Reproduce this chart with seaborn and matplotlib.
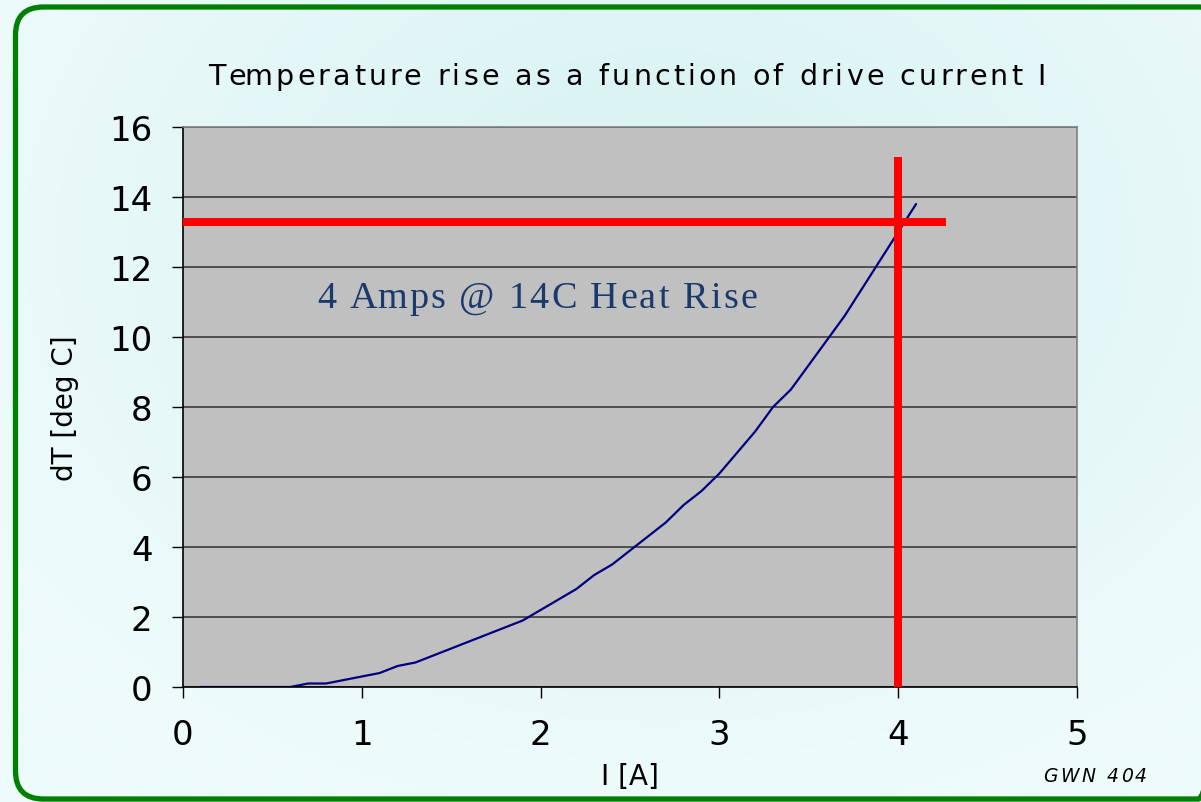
import numpy as np
import matplotlib
matplotlib.use("Agg")
import matplotlib.pyplot as plt
import seaborn as sns
from matplotlib.patches import FancyBboxPatch
from matplotlib.font_manager import FontProperties

# ---------------- data ----------------
current_a = [0.1, 0.2, 0.3, 0.4, 0.5, 0.6, 0.7, 0.8, 0.9, 1.0,
             1.1, 1.2, 1.3, 1.4, 1.5, 1.6, 1.7, 1.8, 1.9, 2.0,
             2.1, 2.2, 2.3, 2.4, 2.5, 2.6, 2.7, 2.8, 2.9, 3.0,
             3.1, 3.2, 3.3, 3.4, 3.5, 3.6, 3.7, 3.8, 3.9, 4.0, 4.1]
temp_rise_c = [0.0, 0.0, 0.0, 0.0, 0.0, 0.0, 0.1, 0.1, 0.2, 0.3,
               0.4, 0.6, 0.7, 0.9, 1.1, 1.3, 1.5, 1.7, 1.9, 2.2,
               2.5, 2.8, 3.2, 3.5, 3.9, 4.3, 4.7, 5.2, 5.6, 6.1,
               6.7, 7.3, 8.0, 8.5, 9.2, 9.9, 10.6, 11.4, 12.2, 13.0, 13.8]
x_ticks = [0, 1, 2, 3, 4, 5]
y_ticks = [0, 2, 4, 6, 8, 10, 12, 14, 16]
title_text = "Temperature rise as a function of drive current I"
x_label = "I [A]"
y_label = "dT [deg C]"
note_text = "4 Amps @ 14C Heat Rise"
footer_text = "GWN 404"
marker_current = 4.0
marker_rise = 13.3
hline_end = 4.27
vline_top = 15.15

# ---------------- style ----------------
sns.set_theme(style="white")
SANS = ["DejaVu Sans"]
plt.rcParams["font.family"] = SANS

W, H = 1201, 803
fig = plt.figure(figsize=(W / 100, H / 100), dpi=100)

# background with gradient and green rounded frame
bg = fig.add_axes([0, 0, 1, 1], zorder=-10)
bg.set_xlim(0, W)
bg.set_ylim(H, 0)
bg.axis("off")
yy, xx = np.mgrid[0:1:200j, 0:1:300j]
d = np.sqrt(((xx - 0.55) / 0.75) ** 2 + ((yy - 0.30) / 0.85) ** 2)
t = np.clip(d / 0.85, 0, 1)[..., None]
c0 = np.array([214, 241, 242]) / 255
c1 = np.array([238, 251, 251]) / 255
img = c0 * (1 - t) + c1 * t
bg.imshow(img, extent=[0, W, H, 0], aspect="auto", interpolation="bilinear")
frame = FancyBboxPatch((15.5, 8), 1226 - 15.5, 800 - 8,
                       boxstyle="round,pad=0,rounding_size=28",
                       fill=False, ec="#008000", lw=3.8)
bg.add_patch(frame)

# main axes
ax = fig.add_axes([183 / W, 1 - 688 / H, 894 / W, 560 / H])
ax.set_facecolor("#C0C0C0")
sns.lineplot(x=current_a, y=temp_rise_c, ax=ax, color="#000080", lw=1.6)

ax.plot([0, hline_end], [marker_rise, marker_rise], color="#FF0000", lw=5.8,
        solid_capstyle="butt", zorder=5)
ax.plot([marker_current, marker_current], [0, vline_top], color="#FF0000", lw=5.8,
        solid_capstyle="butt", zorder=5)

ax.set_xlim(0, 5)
ax.set_ylim(0, 16)
ax.set_xticks(x_ticks)
ax.set_yticks(y_ticks)
ax.yaxis.grid(True, color="#303030", lw=1.1)
ax.xaxis.grid(False)
ax.tick_params(direction="out", length=8, width=1, color="black",
               labelsize=24.5, pad=14, bottom=True, left=True, labelcolor="black")
for s in ["left", "bottom"]:
    ax.spines[s].set_color("black")
    ax.spines[s].set_linewidth(1.2)
for s in ["top", "right"]:
    ax.spines[s].set_color("#808080")
    ax.spines[s].set_linewidth(1.2)

ax.set_xlabel(x_label, fontsize=20, color="black")
ax.xaxis.set_label_coords(0.5, -0.134)
ax.set_ylabel(y_label, fontsize=20, color="black")
ax.yaxis.set_label_coords(-0.116, 0.5)


def spaced_text(s, x_left_px, baseline_px, target_w, prop, color="black"):
    renderer = fig.canvas.get_renderer()

    def w(txt):
        return renderer.get_text_width_height_descent(txt, prop, ismath=False)[0]

    ref = w("x")
    offs = [w(s[:i] + "x") - ref for i in range(len(s))]
    natural = w(s)
    gap = (target_w - natural) / (len(s) - 1)
    for i, ch in enumerate(s):
        if ch == " ":
            continue
        fig.text((x_left_px + offs[i] + i * gap) / W, 1 - baseline_px / H, ch,
                 fontproperties=prop, ha="left", va="baseline", color=color)


spaced_text(title_text, 208, 85, 838, FontProperties(family=SANS, size=20.5))
spaced_text(footer_text, 1043, 782, 104,
            FontProperties(family=SANS, size=13.5, style="italic"))
spaced_text(note_text, 317, 308, 440,
            FontProperties(family=["Liberation Serif"], size=27.5),
            color="#1A3A6E")

fig.savefig("out.png", dpi=100)
